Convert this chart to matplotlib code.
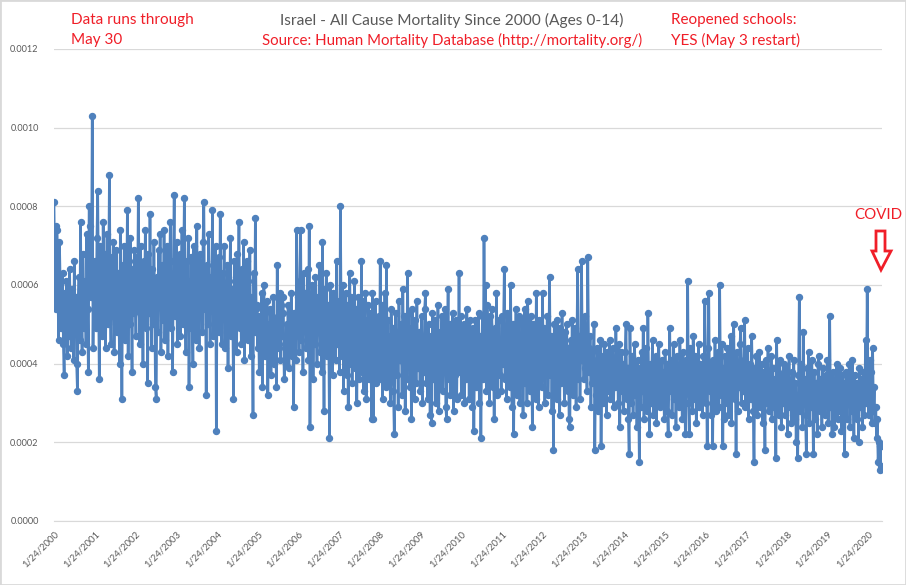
import numpy as np
import pandas as pd
import matplotlib
matplotlib.use("Agg")
import matplotlib.pyplot as plt
from matplotlib.patches import Polygon, Rectangle
from matplotlib.ticker import FormatStrFormatter

plt.rcParams['font.family'] = ['Lato', 'DejaVu Sans']

# weekly mortality, ages 0-14, in units of 1e-5 (one list per year block of 52 weeks)
w2000 = [81, 62, 54, 75, 74, 58, 46, 71, 60, 49, 55, 63, 45, 37, 58, 52, 61, 42, 56, 47,
         64, 50, 44, 59, 53, 41, 66, 48, 57, 40, 33, 55, 62, 46, 76, 52, 43, 68, 58, 49,
         61, 45, 73, 54, 38, 80, 75, 57, 63, 103, 44, 65]
w2001 = [58, 66, 49, 72, 84, 61, 36, 70, 53, 64, 47, 76, 55, 68, 44, 59, 73, 50, 62, 88,
         57, 45, 67, 52, 71, 43, 60, 54, 69, 48, 63, 56, 40, 74, 58, 31, 65, 51, 70, 46,
         61, 55, 79, 42, 66, 50, 72, 57, 38, 64, 53, 69]
w2002 = [58, 47, 67, 54, 82, 63, 45, 70, 52, 61, 40, 66, 56, 74, 49, 60, 35, 68, 53, 78,
         57, 44, 64, 50, 71, 55, 34, 31, 62, 48, 69, 56, 73, 43, 59, 65, 51, 74, 46, 60,
         54, 70, 42, 63, 57, 76, 49, 61, 38, 66, 83, 52]
w2003 = [60, 71, 45, 64, 53, 68, 47, 58, 74, 50, 62, 82, 55, 43, 66, 57, 72, 34, 61, 49,
         67, 53, 40, 70, 56, 63, 46, 75, 52, 59, 44, 68, 57, 64, 48, 71, 81, 54, 60, 32,
         65, 50, 73, 58, 45, 62, 55, 79, 47, 66, 53, 70]
w2004 = [23, 60, 52, 67, 48, 78, 58, 45, 63, 55, 70, 44, 57, 51, 65, 39, 61, 53, 72, 47,
         59, 54, 31, 66, 50, 62, 43, 68, 56, 76, 49, 60, 45, 64, 53, 71, 41, 58, 52, 66,
         46, 61, 55, 69, 42, 57, 50, 27, 63, 48, 77, 54]
w2005 = [55, 44, 52, 38, 51, 46, 58, 34, 49, 60, 42, 53, 47, 56, 32, 50, 43, 54, 37, 52,
         45, 57, 40, 51, 48, 34, 65, 47, 44, 58, 41, 55, 47, 57, 53, 36, 45, 40, 50, 46,
         55, 39, 52, 44, 58, 42, 49, 29, 53, 47, 41, 74]
w2006 = [50, 57, 43, 61, 74, 46, 55, 38, 63, 49, 58, 44, 52, 64, 41, 75, 24, 56, 47, 60,
         36, 53, 45, 62, 50, 40, 57, 48, 65, 43, 54, 38, 71, 51, 28, 59, 46, 63, 42, 55,
         49, 21, 60, 44, 52, 37, 58, 47, 54, 41, 66, 45]
w2007 = [48, 56, 38, 80, 51, 42, 60, 33, 53, 44, 58, 37, 55, 29, 50, 63, 40, 57, 35, 52,
         43, 61, 39, 54, 30, 49, 57, 36, 52, 41, 66, 38, 56, 33, 51, 58, 31, 48, 40, 55,
         36, 53, 44, 26, 58, 26, 50, 39, 56, 35, 49, 41]
w2008 = [52, 36, 66, 43, 55, 31, 48, 40, 58, 34, 65, 42, 51, 35, 47, 30, 54, 39, 49, 33,
         22, 45, 53, 37, 48, 29, 56, 41, 44, 50, 32, 59, 40, 52, 28, 47, 36, 63, 42, 53,
         34, 49, 26, 54, 38, 46, 31, 51, 35, 56, 39, 45]
w2009 = [48, 33, 44, 52, 30, 46, 38, 54, 58, 35, 45, 31, 50, 40, 27, 47, 25, 53, 36, 43,
         51, 30, 45, 39, 55, 28, 48, 34, 42, 52, 33, 46, 40, 54, 29, 26, 44, 59, 36, 50,
         32, 47, 39, 53, 28, 45, 37, 51, 31, 46, 40, 63]
w2010 = [38, 52, 32, 47, 41, 50, 30, 45, 36, 54, 39, 48, 31, 51, 37, 45, 29, 49, 23, 43,
         51, 34, 46, 40, 53, 30, 47, 21, 42, 52, 36, 72, 44, 60, 33, 55, 40, 50, 30, 52,
         38, 54, 34, 46, 26, 49, 40, 58, 32, 44, 51, 37]
w2011 = [45, 33, 52, 40, 49, 64, 36, 47, 31, 53, 39, 46, 34, 60, 42, 29, 50, 22, 44, 38,
         54, 32, 47, 40, 52, 30, 46, 37, 51, 27, 43, 54, 35, 49, 30, 56, 39, 46, 33, 52,
         41, 24, 50, 38, 47, 31, 58, 40, 45, 29, 51, 36]
w2012 = [44, 34, 58, 39, 49, 30, 46, 40, 52, 32, 42, 62, 37, 47, 28, 45, 18, 50, 36, 44,
         31, 51, 39, 46, 27, 49, 35, 53, 38, 45, 30, 48, 40, 50, 33, 44, 26, 24, 46, 37,
         51, 32, 43, 39, 49, 29, 45, 64, 36, 47, 31, 44]
w2013 = [66, 41, 48, 36, 52, 39, 45, 33, 67, 44, 38, 47, 29, 43, 35, 41, 50, 18, 39, 32,
         44, 28, 40, 34, 46, 19, 37, 42, 30, 45, 36, 41, 27, 43, 33, 38, 46, 31, 40, 35,
         44, 29, 39, 34, 49, 37, 42, 30, 45, 24, 38, 43]
w2014 = [33, 40, 28, 37, 43, 50, 31, 39, 26, 17, 49, 35, 30, 42, 27, 38, 45, 32, 36, 24,
         41, 34, 15, 39, 29, 43, 33, 49, 26, 37, 31, 44, 28, 53, 35, 22, 40, 30, 38, 46,
         27, 36, 33, 42, 25, 39, 31, 45, 29, 37, 34, 41]
w2015 = [30, 38, 26, 43, 35, 40, 28, 22, 36, 49, 33, 41, 27, 37, 45, 31, 39, 24, 42, 34,
         38, 29, 46, 35, 40, 26, 43, 32, 37, 22, 41, 35, 61, 30, 22, 44, 33, 39, 28, 47,
         36, 31, 42, 25, 38, 34, 45, 29, 40, 33, 37, 27]
w2016 = [42, 35, 56, 30, 38, 19, 44, 58, 33, 40, 27, 36, 19, 41, 31, 46, 28, 38, 34, 43,
         29, 60, 37, 32, 45, 19, 39, 26, 42, 35, 30, 44, 27, 38, 33, 47, 25, 40, 36, 50,
         31, 39, 17, 43, 28, 37, 34, 45, 49, 30, 38, 33]
w2017 = [41, 51, 29, 38, 33, 44, 26, 36, 40, 31, 47, 35, 28, 15, 39, 34, 42, 27, 37, 32,
         43, 29, 36, 40, 25, 38, 33, 18, 41, 30, 37, 44, 28, 35, 31, 42, 26, 39, 34, 29,
         36, 16, 46, 32, 38, 27, 41, 33, 24, 37, 30, 40]
w2018 = [34, 27, 39, 31, 22, 36, 42, 29, 33, 25, 38, 30, 41, 26, 35, 20, 32, 16, 37, 57,
         28, 40, 33, 24, 48, 30, 36, 27, 17, 39, 32, 43, 25, 37, 29, 41, 34, 17, 38, 26,
         35, 31, 22, 40, 42, 28, 36, 33, 24, 39, 30, 34]
w2019 = [27, 37, 31, 41, 25, 35, 52, 29, 33, 22, 38, 30, 24, 36, 32, 40, 26, 34, 28, 39,
         31, 23, 37, 29, 35, 17, 33, 38, 26, 36, 30, 40, 24, 34, 28, 41, 32, 21, 37, 30,
         35, 26, 33, 20, 39, 29, 36, 31, 24, 38, 27, 33]
w2020 = [46, 30, 59, 36, 27, 41, 33, 38, 25, 44, 28, 34, 25, 29, 21, 26, 15, 20, 13, 19,
         14, 19]

blocks = [w2000, w2001, w2002, w2003, w2004, w2005, w2006, w2007, w2008, w2009, w2010,
          w2011, w2012, w2013, w2014, w2015, w2016, w2017, w2018, w2019, w2020]
values = np.concatenate([np.array(b, dtype=float) for b in blocks]) * 1e-5
dates = pd.date_range("2000-01-24", periods=len(values), freq="7D")

tick_years = list(range(2000, 2021))
tick_dates = [pd.Timestamp(f"{y}-01-24") for y in tick_years]
tick_labels = [f"1/24/{y}" for y in tick_years]

W, H = 906, 585
fig = plt.figure(figsize=(W / 100, H / 100), dpi=100)
ax = fig.add_axes([54 / W, 1 - 521 / H, (882 - 54) / W, (521 - 49) / H])

ax.plot(dates, values, color="#4F81BD", lw=1.9, marker="o", ms=4.3,
        mfc="#4F81BD", mec="#4F81BD")

ax.set_ylim(0, 0.0012)
ax.set_yticks(np.arange(0, 0.00121, 0.0002))
ax.yaxis.set_major_formatter(FormatStrFormatter("%.4f"))
ax.set_xlim(dates[0], dates[-1])
ax.set_xticks(tick_dates)
ax.set_xticklabels(tick_labels, rotation=45, ha="right", va="top",
                   rotation_mode="anchor")

ax.yaxis.grid(True, color="#D9D9D9", lw=0.9)
ax.set_axisbelow(True)
for s in ["top", "right", "left"]:
    ax.spines[s].set_visible(False)
ax.spines["bottom"].set_color("#D9D9D9")
ax.tick_params(axis="x", length=0, labelsize=6.8, labelcolor="#595959", pad=6)
ax.tick_params(axis="y", length=0, labelsize=6.6, labelcolor="#595959", pad=11)

red = "#F01E28"
fig.text(452 / W, 1 - 20 / H, "Israel - All Cause Mortality Since 2000 (Ages 0-14)",
         ha="center", va="center", fontsize=11.2, color="#595959")
fig.text(452 / W, 1 - 40 / H, "Source: Human Mortality Database (http://mortality.org/)",
         ha="center", va="center", fontsize=10.8, color=red)
fig.text(71 / W, 1 - 20 / H, "Data runs through", ha="left", va="center",
         fontsize=11, color=red)
fig.text(71 / W, 1 - 40 / H, "May 30", ha="left", va="center", fontsize=11, color=red)
fig.text(671 / W, 1 - 20 / H, "Reopened schools:", ha="left", va="center",
         fontsize=11, color=red)
fig.text(671 / W, 1 - 40 / H, "YES (May 3 restart)", ha="left", va="center",
         fontsize=11, color=red)
fig.text(878 / W, 1 - 215 / H, "COVID", ha="center", va="center", fontsize=10.8, color=red)

arrow_px = [(876, 231), (885, 231), (885, 251), (891, 251), (881, 270), (872, 251), (876, 251)]
fig.patches.append(Polygon([(x / W, 1 - y / H) for x, y in arrow_px], closed=True,
                           transform=fig.transFigure, facecolor="white",
                           edgecolor=red, lw=2.0, joinstyle="miter"))
fig.patches.append(Rectangle((0, 0), 1, 1, transform=fig.transFigure, fill=False,
                             edgecolor="#D9D9D9", lw=2))

fig.savefig("out.png", dpi=100)
